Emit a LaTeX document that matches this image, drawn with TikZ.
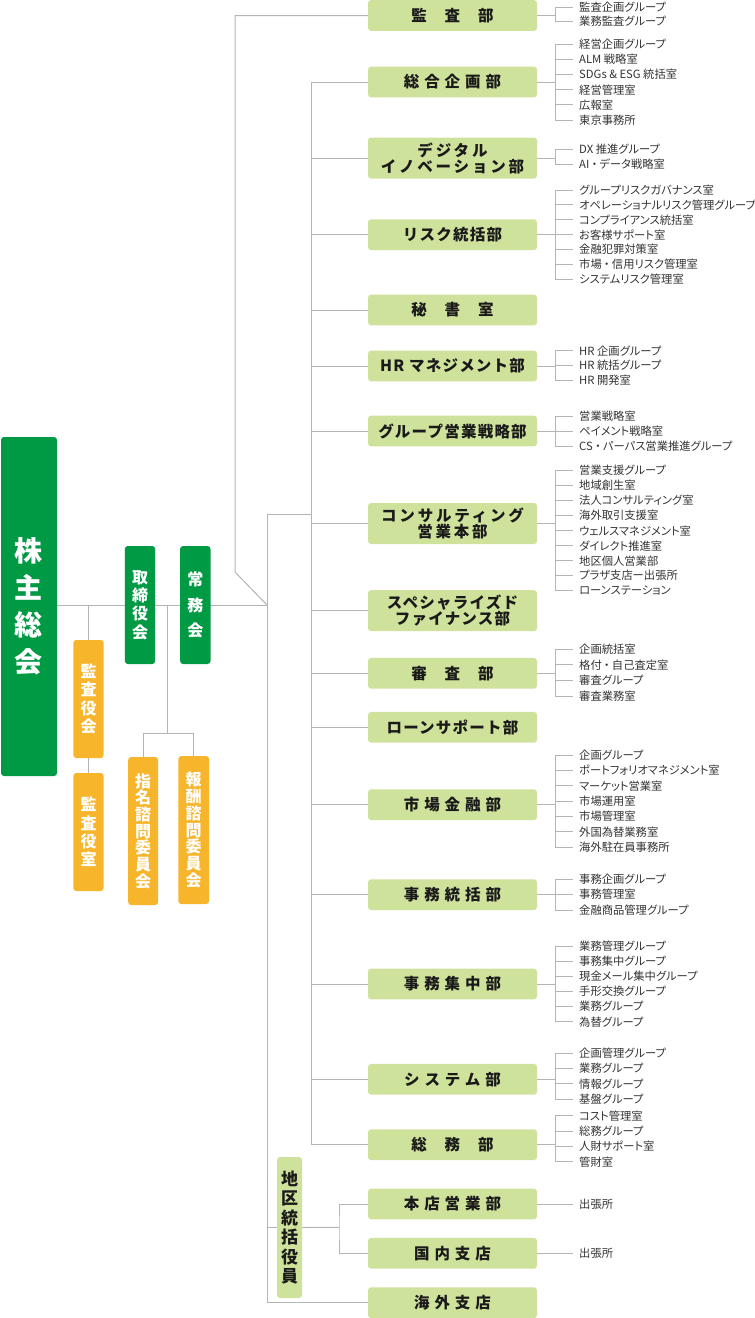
\documentclass[tikz,border=0pt]{standalone}
\usepackage{fontspec}
\setmainfont{Noto Sans CJK JP}
\newfontfamily\deptfont{Noto Sans CJK JP}[LetterSpace=8]
\newfontfamily\deptmidfont{Noto Sans CJK JP}[LetterSpace=18]
\newfontfamily\deptwidefont{Noto Sans CJK JP}[LetterSpace=32]
\newfontfamily\itemfont{Noto Sans CJK JP}[RawFeature=+palt]
\usetikzlibrary{calc,backgrounds}

\definecolor{deptgreen}{HTML}{CFE29C}
\definecolor{topgreen}{HTML}{009A44}
\definecolor{auditorange}{HTML}{F7B52C}
\definecolor{linegray}{HTML}{B4B4B4}
\definecolor{itemink}{HTML}{333333}
\definecolor{deptink}{HTML}{1A1A1A}

\newcommand\dotsep{\makebox[0.9em]{・}}

\tikzset{
  line/.style={draw=linegray, line width=1pt},
  dept/.style={fill=deptgreen, rounded corners=3pt, minimum width=169pt,
    minimum height=30.7pt, inner sep=0pt, align=center, text=deptink,
    font=\deptfont\bfseries\fontsize{15.5}{16}\selectfont},
  deptmid/.style={dept, minimum height=41pt,
    font=\deptmidfont\bfseries\fontsize{15.5}{16}\selectfont},
  deptwide/.style={dept, font=\deptwidefont\bfseries\fontsize{15.5}{16}\selectfont},
  vbox/.style={rounded corners=3pt, inner sep=0pt, align=center, text=white},
  subitem/.style={anchor=west, inner xsep=6pt, inner ysep=0pt, text=itemink,
    font=\itemfont\fontsize{11.3}{12}\selectfont},
}

% #1 box, #2 first y, #3 step, #4 items
\newcommand\sublist[4]{%
  \coordinate (#1-br) at ([xshift=18pt]#1.east);
  \foreach \txt [count=\i] in {#4} {
    \node[subitem] (#1-\i) at (573,{#2+(\i-1)*#3}) {\txt};
    \draw[line] (#1-br |- #1-\i.west) -- (#1-\i.west);
    \xdef\lastitem{\i}
  }
  \draw[line] (#1.east) -- (#1-br);
  \draw[line] (#1-br |- #1-1.west) -- (#1-br |- #1-\lastitem.west);
}

\begin{document}
\begin{tikzpicture}[x=1pt,y=-1pt]
  \useasboundingbox (0,0) rectangle (755,1318);

  % Left-hand boxes
  \node[vbox, fill=topgreen, minimum width=56pt, minimum height=339pt,
    font=\bfseries\fontsize{28}{37}\selectfont] (kabunushi) at (29,606.5) {株\\主\\総\\会};
  \node[vbox, fill=topgreen, minimum width=30.4pt, minimum height=118pt,
    font=\bfseries\fontsize{16}{18.3}\selectfont] (torishimariyaku) at (140,605) {取\\締\\役\\会};
  \node[vbox, fill=topgreen, minimum width=30.4pt, minimum height=118pt,
    font=\bfseries\fontsize{16}{25.5}\selectfont] (jomukai) at (195.3,605) {常\\務\\会};
  \node[vbox, fill=auditorange, minimum width=30.4pt, minimum height=118pt,
    font=\bfseries\fontsize{16}{18.3}\selectfont] (kansayakukai) at (88.5,699) {監\\査\\役\\会};
  \node[vbox, fill=auditorange, minimum width=30.4pt, minimum height=118pt,
    font=\bfseries\fontsize{16}{18.3}\selectfont] (kansayakushitsu) at (88.5,832) {監\\査\\役\\室};
  \node[vbox, fill=auditorange, minimum width=30pt, minimum height=148pt,
    font=\bfseries\fontsize{16}{16.7}\selectfont] (shimei) at (143.2,831) {指\\名\\諮\\問\\委\\員\\会};
  \node[vbox, fill=auditorange, minimum width=30.7pt, minimum height=148pt,
    font=\bfseries\fontsize{16}{16.7}\selectfont] (hoshu) at (193.7,830) {報\\酬\\諮\\問\\委\\員\\会};
  \node[vbox, fill=deptgreen, text=deptink, minimum width=25pt, minimum height=141pt,
    font=\bfseries\fontsize{17}{19.5}\selectfont] (chiku) at (289.5,1227.5) {地\\区\\統\\括\\役\\員};

  % Departments
  \node[dept] (kansabu) at (452.5,15.5) {監　査　部};
  \node[deptwide] (sougou) at (452.5,82) {総合企画部};
  \node[deptmid] (digital) at (452.5,158) {デジタル\\イノベーション部};
  \node[dept] (risk) at (452.5,234.7) {リスク統括部};
  \node[dept] (hisho) at (452.5,310) {秘　書　室};
  \node[dept] (hr) at (452.5,366) {HR マネジメント部};
  \node[dept] (group) at (452.5,431) {グループ営業戦略部};
  \node[deptmid] (consul) at (452.5,523.5) {コンサルティング\\営業本部};
  \node[dept, minimum height=41pt] (special) at (452.5,610.7) {スペシャライズド\\ファイナンス部};
  \node[dept] (shinsa) at (452.5,673.3) {審　査　部};
  \node[dept] (loan) at (452.5,727.3) {ローンサポート部};
  \node[deptwide] (shijo) at (452.5,804.7) {市場金融部};
  \node[deptwide] (jimutokatsu) at (452.5,894.7) {事務統括部};
  \node[deptwide] (jimushuchu) at (452.5,984) {事務集中部};
  \node[deptwide] (system) at (452.5,1079.3) {システム部};
  \node[dept] (soumu) at (452.5,1144.7) {総　務　部};
  \node[deptwide] (honten) at (452.5,1204) {本店営業部};
  \node[deptwide] (kokunai) at (452.5,1253.3) {国内支店};
  \node[deptwide] (kaigai) at (452.5,1302.7) {海外支店};

  % Junction points
  \coordinate (hub) at (267,605);
  \coordinate (bend) at (235,572);
  \coordinate (spine1) at (267,514);
  \coordinate (spine2) at (311,514);
  \coordinate (cmt) at (167.3,733.7);
  \coordinate (chiku-br) at (339,1227.3);

  % Main connectors
  \begin{scope}[on background layer]
    \draw[line] (kabunushi.east |- hub) -- (hub);
    \draw[line] (kansabu.west) -| (bend) -- (hub);
    \draw[line] (kansayakukai.north |- hub) -- (kansayakukai.north);
    \draw[line] (kansayakukai.south) -- (kansayakushitsu.north);
    \draw[line] (cmt |- hub) -- (cmt);
    \draw[line] (shimei.north) |- (cmt) -| (hoshu.north);
    \draw[line] (spine2) -- (spine1) |- (kaigai.west);
    \draw[line] (chiku.west -| spine1) -- (chiku.west);
    \draw[line] (chiku.east) -- (chiku-br);
    \draw[line] (honten.west) -| (chiku-br) |- (kokunai.west);
    \draw[line] (sougou.west -| spine2) -- (soumu.west -| spine2);
    \foreach \d in {sougou,digital,risk,hisho,hr,group,consul,special,shinsa,loan,
        shijo,jimutokatsu,jimushuchu,system,soumu}
      \draw[line] (\d.west -| spine2) -- (\d.west);
  \end{scope}

  % Sections
  \sublist{kansabu}{7.3}{14}{監査企画グループ,業務監査グループ}
  \sublist{sougou}{44.3}{15.14}{経営企画グループ,ALM 戦略室,SDGs \& ESG 統括室,経営管理室,広報室,東京事務所}
  \sublist{digital}{149.3}{15}{DX 推進グループ,AI\dotsep データ戦略室}
  \sublist{risk}{190}{14.9}{グループリスクガバナンス室,オペレーショナルリスク管理グループ,コンプライアンス統括室,お客様サポート室,金融犯罪対策室,市場\dotsep 信用リスク管理室,システムリスク管理室}
  \sublist{hr}{350.7}{15}{HR 企画グループ,HR 統括グループ,HR 開発室}
  \sublist{group}{416}{15}{営業戦略室,ペイメント戦略室,CS\dotsep パーパス営業推進グループ}
  \sublist{consul}{470.7}{15}{営業支援グループ,地域創生室,法人コンサルティング室,海外取引支援室,ウェルスマネジメント室,ダイレクト推進室,地区個人営業部,プラザ支店ー出張所,ローンステーション}
  \sublist{shinsa}{649.3}{15.57}{企画統括室,格付\dotsep 自己査定室,審査グループ,審査業務室}
  \sublist{shijo}{755}{15.38}{企画グループ,ポートフォリオマネジメント室,マーケット営業室,市場運用室,市場管理室,外国為替業務室,海外駐在員事務所}
  \sublist{jimutokatsu}{879.3}{15.35}{事務企画グループ,事務管理室,金融商品管理グループ}
  \sublist{jimushuchu}{946}{15.14}{業務管理グループ,事務集中グループ,現金メール集中グループ,手形交換グループ,業務グループ,為替グループ}
  \sublist{system}{1053.3}{15.33}{企画管理グループ,業務グループ,情報グループ,基盤グループ}
  \sublist{soumu}{1115.7}{15.33}{コスト管理室,総務グループ,人財サポート室,管財室}
  \sublist{honten}{1204}{15}{出張所}
  \sublist{kokunai}{1253.3}{15}{出張所}
\end{tikzpicture}
\end{document}
